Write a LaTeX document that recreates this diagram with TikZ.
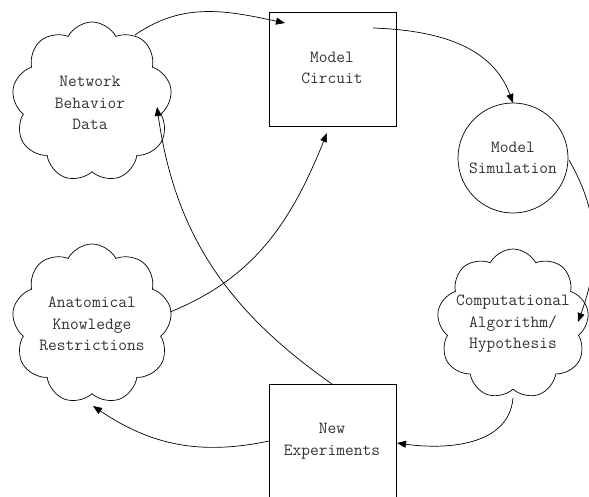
\documentclass[tikz,border=0pt]{standalone}
\usetikzlibrary{shapes.symbols,arrows.meta}
\begin{document}
\begin{tikzpicture}[x=1pt,y=-1pt,
  lbl/.style={font=\ttfamily\fontsize{17}{21.5}\selectfont, align=center, text=black!80},
  boxnode/.style={draw, line width=0.8pt, minimum width=127pt, inner sep=0pt},
  cloudnode/.style={draw, cloud, cloud puffs=9, cloud puff arc=125, aspect=1, minimum width=160pt, minimum height=160pt, inner sep=0pt, line width=0.7pt},
  arr/.style={-{Triangle[length=9pt,width=7pt]}, line width=0.7pt}]
\useasboundingbox (0,0) rectangle (589,496);
\clip (0,0) rectangle (589,496);
% nodes
\node[boxnode, minimum height=114pt] (mc) at (332.5,69) {};
\node[lbl] (mctext) at (332,68) {Model\\Circuit};
\node[draw, circle, minimum size=110pt, inner sep=0pt, line width=0.7pt] (ms) at (513,158) {};
\node[lbl] (mstext) at (513,158) {Model\\Simulation};
\node[boxnode, minimum height=130pt] (ne) at (332.5,449) {};
\node[lbl] (netext) at (332,441) {New\\Experiments};
\node[cloudnode] (nbd) at (92,102) {};
\node[lbl] (nbdtext) at (90,103) {Network\\Behavior\\Data};
\node[cloudnode] (akr) at (92,324) {};
\node[lbl] (akrtext) at (92,324) {Anatomical\\Knowledge\\Restrictions};
\node[cloudnode, minimum width=152pt, minimum height=150pt] (cah) at (513,324) {};
\node[lbl] (cahtext) at (513,324) {Computational\\Algorithm/\\Hypothesis};
% connector end points
\coordinate (p1s) at (135,35);
\coordinate (p1e) at (285,23);
\coordinate (p2s) at (373,28);
\coordinate (p2e) at (513,103);
\coordinate (p3s) at (569,160);
\coordinate (p3e) at (578,322);
\coordinate (p4s) at (513,398);
\coordinate (p4e) at (397,443);
\coordinate (p5s) at (269,441);
\coordinate (p5e) at (93,406);
\coordinate (p6s) at (170,312);
\coordinate (p6e) at (327,133);
\coordinate (p7s) at (332,384);
\coordinate (p7e) at (157,107);
% connectors
\draw[arr] (p1s) to[out=35, in=168] (p1e);
\draw[arr] (p2s) to[out=-2, in=110] (p2e);
\draw[arr] (p3s) to[out=-60, in=70] (p3e);
\draw[arr] (p4s) to[out=-95, in=-8] (p4e);
\draw[arr] (p5s) to[out=-168, in=-34] (p5e);
\draw[arr] (p6s) to[out=22, in=-112] (p6e);
\draw[arr] (p7s) to[out=145, in=-82] (p7e);
\end{tikzpicture}
\end{document}
